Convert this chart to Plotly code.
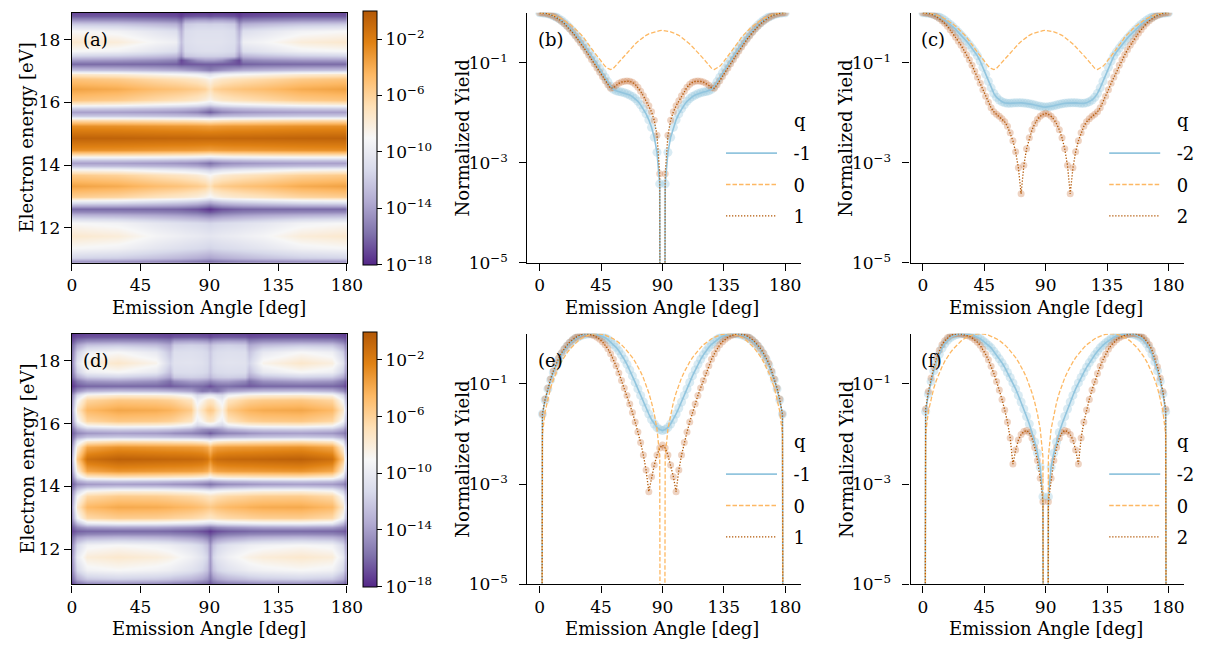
import plotly.graph_objects as go

# ------------------------------------------------------------------ data
ANGLE_TICKS = [0, 45, 90, 135, 180]
ENERGY_TICKS = [12, 14, 16, 18]
YIELD_TICKVALS = [1e-5, 1e-3, 1e-1]
YIELD_TICKTEXT = ["10<sup>−5</sup>", "10<sup>−3</sup>", "10<sup>−1</sup>"]
CBAR_TICKVALS = [-18, -14, -10, -6, -2]
CBAR_TICKTEXT = ["10<sup>−18</sup>", "10<sup>−14</sup>", "10<sup>−10</sup>",
                 "10<sup>−6</sup>", "10<sup>−2</sup>"]

# emission angles 0..90 deg (distributions are symmetric about 90 deg)
ANGLES_HALF = list(range(0, 91, 2))

# log10 of normalized yield, None = zero yield
Q0_TOP = [0.0, -0.002, -0.007, -0.016, -0.029, -0.046, -0.066, -0.09, -0.118, -0.15,
          -0.186, -0.226, -0.27, -0.318, -0.37, -0.426, -0.486, -0.57, -0.64, -0.715,
          -0.79, -0.865, -0.94, -1.01, -1.07, -1.11, -1.135, -1.11, -1.05, -0.98,
          -0.915, -0.85, -0.79, -0.735, -0.68, -0.625, -0.575, -0.53, -0.49, -0.45,
          -0.42, -0.40, -0.38, -0.365, -0.355, -0.35]
B_QM1 = [0.0, -0.002, -0.009, -0.02, -0.037, -0.058, -0.085, -0.117, -0.155, -0.198,
         -0.246, -0.30, -0.358, -0.42, -0.487, -0.557, -0.63, -0.706, -0.785, -0.866,
         -0.948, -1.03, -1.115, -1.2, -1.29, -1.38, -1.47, -1.53, -1.56, -1.575,
         -1.585, -1.60, -1.62, -1.645, -1.675, -1.715, -1.77, -1.84, -1.92, -2.02,
         -2.14, -2.29, -2.49, -2.79, -3.42, None]
B_QP1 = [0.0, -0.002, -0.01, -0.022, -0.04, -0.063, -0.092, -0.127, -0.168, -0.215,
         -0.268, -0.326, -0.39, -0.458, -0.53, -0.605, -0.684, -0.765, -0.85, -0.935,
         -1.02, -1.105, -1.19, -1.275, -1.36, -1.44, -1.51, -1.50, -1.45, -1.41,
         -1.385, -1.37, -1.365, -1.37, -1.39, -1.43, -1.49, -1.57, -1.66, -1.76,
         -1.86, -1.98, -2.15, -2.45, -3.22, None]
C_QM2 = [0.0, -0.002, -0.009, -0.02, -0.036, -0.057, -0.083, -0.113, -0.148, -0.188,
         -0.232, -0.28, -0.332, -0.388, -0.445, -0.505, -0.568, -0.635, -0.705, -0.78,
         -0.86, -0.965, -1.09, -1.23, -1.37, -1.50, -1.61, -1.69, -1.745, -1.78,
         -1.80, -1.81, -1.81, -1.805, -1.80, -1.80, -1.80, -1.805, -1.81, -1.82,
         -1.83, -1.845, -1.86, -1.87, -1.88, -1.885]
C_QP2 = [0.0, -0.003, -0.012, -0.027, -0.05, -0.08, -0.115, -0.16, -0.21, -0.27,
         -0.34, -0.41, -0.49, -0.57, -0.65, -0.74, -0.84, -0.94, -1.05, -1.17,
         -1.29, -1.41, -1.54, -1.67, -1.79, -1.90, -1.98, -2.03, -2.07, -2.12,
         -2.18, -2.27, -2.40, -2.56, -2.78, -3.10, -3.62, -3.05, -2.72, -2.50,
         -2.34, -2.22, -2.13, -2.07, -2.03, -2.01]
Q0_BOT = [None, -2.0, -1.55, -1.30, -1.08, -0.92, -0.78, -0.66, -0.55, -0.46,
          -0.38, -0.31, -0.25, -0.19, -0.145, -0.105, -0.07, -0.045, -0.025, -0.01,
          -0.002, 0.0, -0.003, -0.012, -0.025, -0.045, -0.07, -0.10, -0.135, -0.175,
          -0.22, -0.275, -0.335, -0.40, -0.475, -0.56, -0.65, -0.76, -0.88, -1.02,
          -1.18, -1.37, -1.60, -1.90, -2.45, None]
E_QM1 = [None, -1.6, -1.32, -1.1, -0.92, -0.77, -0.63, -0.51, -0.41, -0.32,
         -0.25, -0.19, -0.14, -0.10, -0.065, -0.04, -0.02, -0.008, -0.002, 0.0,
         -0.003, -0.012, -0.03, -0.05, -0.08, -0.115, -0.16, -0.21, -0.27, -0.34,
         -0.42, -0.51, -0.61, -0.72, -0.84, -0.97, -1.10, -1.23, -1.36, -1.48,
         -1.60, -1.71, -1.80, -1.87, -1.91, -1.93]
E_QP1 = [None, -1.6, -1.3, -1.08, -0.90, -0.74, -0.59, -0.48, -0.38, -0.30,
         -0.23, -0.17, -0.12, -0.08, -0.045, -0.02, -0.005, 0.0, -0.005, -0.02,
         -0.04, -0.07, -0.11, -0.16, -0.22, -0.30, -0.40, -0.51, -0.64, -0.78,
         -0.93, -1.08, -1.23, -1.40, -1.57, -1.76, -1.96, -2.17, -2.42, -2.72,
         -3.15, -2.85, -2.62, -2.42, -2.28, -2.22]
F_QM2 = [None, -1.55, -1.2, -0.95, -0.74, -0.56, -0.41, -0.29, -0.20, -0.13,
         -0.08, -0.045, -0.02, -0.007, -0.001, 0.0, -0.004, -0.012, -0.025, -0.045,
         -0.07, -0.10, -0.14, -0.18, -0.23, -0.28, -0.35, -0.42, -0.50, -0.58,
         -0.67, -0.77, -0.87, -0.98, -1.10, -1.23, -1.36, -1.50, -1.65, -1.80,
         -1.97, -2.16, -2.38, -2.66, -3.25, None]
F_QP2 = [None, -1.5, -1.15, -0.88, -0.66, -0.48, -0.33, -0.22, -0.14, -0.08,
         -0.04, -0.015, -0.003, 0.0, -0.005, -0.015, -0.03, -0.05, -0.08, -0.12,
         -0.17, -0.23, -0.31, -0.41, -0.52, -0.65, -0.79, -0.95, -1.12, -1.31,
         -1.52, -1.76, -2.08, -2.60, -2.32, -2.12, -2.01, -1.95, -1.93, -1.97,
         -2.08, -2.27, -2.53, -2.88, -3.35, None]

# heat maps: log10 yield on (energy x angle) grid, angles 0..90 deg
HEAT_E = [10.88, 11.05, 11.35, 11.75, 12.15, 12.40, 12.50, 12.60, 12.70, 12.85,
          13.00, 13.35, 13.70, 13.85, 13.98, 14.08, 14.18, 14.32, 14.50, 14.88,
          15.25, 15.45, 15.58, 15.70, 15.82, 15.95, 16.10, 16.43, 16.75, 16.92,
          17.05, 17.22, 17.35, 17.50, 17.65, 17.95, 18.30, 18.50, 18.65, 18.78, 18.86]
HEAT_A_ANGLES = [0, 30, 55, 68, 71, 74, 82, 87, 90]
HEAT_A = [
    [-15.5, -15.6, -15.8, -16.0, -16.0, -16.1, -16.3, -16.5, -16.7],
    [-11.5, -11.8, -12.4, -12.8, -12.9, -13.0, -13.3, -13.6, -13.8],
    [-9.0, -9.4, -10.3, -10.7, -10.8, -10.9, -11.1, -11.3, -11.5],
    [-7.6, -8.0, -9.2, -9.6, -9.7, -9.8, -10.0, -10.2, -10.3],
    [-9.0, -9.4, -10.3, -10.7, -10.8, -10.9, -11.1, -11.3, -11.5],
    [-13.0, -13.2, -13.6, -13.9, -14.0, -14.1, -14.4, -14.8, -15.0],
    [-14.8, -14.9, -15.1, -15.3, -15.4, -15.5, -15.8, -16.3, -16.6],
    [-16.0, -16.0, -16.1, -16.2, -16.3, -16.4, -16.7, -17.2, -17.6],
    [-13.5, -13.6, -13.9, -14.1, -14.2, -14.3, -14.7, -15.3, -15.8],
    [-9.5, -9.8, -10.5, -10.9, -11.0, -11.1, -11.5, -12.1, -12.6],
    [-5.8, -6.2, -7.0, -7.4, -7.5, -7.6, -8.0, -8.6, -9.2],
    [-3.6, -4.0, -4.8, -5.1, -5.2, -5.3, -5.6, -6.0, -6.9],
    [-5.6, -6.0, -6.8, -7.2, -7.3, -7.4, -7.8, -8.4, -9.0],
    [-8.5, -8.8, -9.6, -10.0, -10.1, -10.2, -10.6, -11.2, -11.6],
    [-12.5, -12.6, -12.9, -13.1, -13.2, -13.3, -13.6, -14.1, -14.5],
    [-14.0, -14.0, -14.2, -14.4, -14.5, -14.5, -14.8, -15.3, -15.8],
    [-12.0, -12.0, -12.2, -12.4, -12.5, -12.5, -12.7, -13.0, -13.3],
    [-6.8, -6.9, -7.1, -7.3, -7.3, -7.3, -7.5, -7.7, -7.9],
    [-2.8, -2.9, -3.1, -3.2, -3.2, -3.2, -3.3, -3.4, -3.5],
    [-0.6, -0.65, -0.75, -0.8, -0.8, -0.8, -0.85, -0.85, -0.85],
    [-2.8, -2.9, -3.1, -3.2, -3.2, -3.2, -3.3, -3.4, -3.5],
    [-6.8, -6.9, -7.1, -7.3, -7.3, -7.3, -7.5, -7.7, -7.9],
    [-12.0, -12.0, -12.2, -12.4, -12.5, -12.5, -12.7, -13.0, -13.3],
    [-14.0, -14.0, -14.2, -14.4, -14.5, -14.6, -15.0, -15.8, -16.4],
    [-11.5, -11.7, -12.1, -12.4, -12.5, -12.6, -13.0, -13.6, -14.2],
    [-7.5, -7.9, -8.7, -9.1, -9.2, -9.3, -9.7, -10.3, -10.8],
    [-5.2, -5.6, -6.4, -6.8, -6.9, -7.0, -7.4, -8.0, -8.6],
    [-3.6, -4.0, -4.8, -5.1, -5.2, -5.3, -5.6, -6.0, -6.9],
    [-5.2, -5.6, -6.4, -6.8, -6.9, -7.0, -7.4, -8.0, -8.6],
    [-7.5, -7.9, -8.7, -9.1, -9.2, -9.3, -9.7, -10.3, -10.8],
    [-12.5, -12.7, -13.1, -13.4, -13.6, -13.8, -14.4, -15.0, -15.4],
    [-16.0, -16.0, -16.1, -16.3, -16.8, -16.6, -16.5, -16.4, -16.4],
    [-14.0, -14.2, -14.6, -15.0, -17.0, -16.3, -14.5, -14.0, -14.0],
    [-11.5, -11.8, -12.4, -12.9, -14.5, -12.2, -11.8, -11.7, -11.7],
    [-9.0, -9.4, -10.4, -10.9, -13.2, -11.2, -10.9, -10.8, -10.8],
    [-7.6, -8.0, -9.2, -9.6, -12.5, -10.9, -10.6, -10.6, -10.6],
    [-9.0, -9.4, -10.4, -10.9, -13.2, -11.1, -10.8, -10.8, -10.8],
    [-12.0, -12.2, -12.8, -13.2, -14.5, -12.0, -11.6, -11.6, -11.7],
    [-14.5, -14.6, -15.0, -15.3, -16.0, -14.2, -13.8, -13.8, -14.0],
    [-16.5, -16.5, -16.7, -16.9, -17.3, -16.8, -16.6, -16.6, -16.8],
    [-17.0, -17.0, -17.2, -17.3, -17.6, -17.4, -17.3, -17.3, -17.4],
]
HEAT_D_ANGLES = [0, 3, 10, 30, 55, 64, 67, 78, 82, 85, 88, 90]
HEAT_D = [
    [-17.5, -16.5, -15.8, -15.5, -15.6, -15.8, -15.9, -16.0, -16.2, -16.4, -16.6, -17.0],
    [-16.0, -13.5, -12.0, -11.6, -11.9, -12.2, -12.4, -12.9, -13.3, -13.7, -14.4, -15.6],
    [-15.0, -11.3, -9.4, -9.0, -9.4, -9.7, -9.9, -10.6, -11.0, -11.5, -12.4, -14.5],
    [-14.5, -10.0, -8.0, -7.6, -8.0, -8.4, -8.6, -9.5, -10.0, -10.5, -11.5, -14.2],
    [-15.0, -11.3, -9.4, -9.0, -9.4, -9.7, -9.9, -10.6, -11.0, -11.5, -12.4, -14.5],
    [-16.0, -14.0, -13.3, -13.0, -13.2, -13.4, -13.6, -14.0, -14.3, -14.6, -15.2, -16.0],
    [-16.5, -15.5, -15.0, -14.8, -14.9, -15.0, -15.1, -15.4, -15.6, -15.9, -16.3, -16.8],
    [-17.0, -16.3, -16.1, -16.0, -16.0, -16.1, -16.2, -16.4, -16.6, -16.8, -17.1, -17.5],
    [-16.5, -14.8, -13.8, -13.5, -13.6, -13.8, -13.9, -14.2, -14.4, -14.6, -15.0, -15.3],
    [-15.5, -12.5, -9.8, -9.3, -9.4, -9.6, -9.7, -10.0, -10.2, -10.4, -10.7, -10.9],
    [-14.5, -9.3, -6.4, -5.7, -5.8, -6.0, -6.1, -6.4, -6.6, -6.8, -7.1, -7.3],
    [-14.0, -7.5, -4.6, -3.9, -4.0, -4.2, -4.3, -4.6, -4.8, -5.0, -5.3, -5.5],
    [-14.5, -9.3, -6.4, -5.7, -5.8, -6.0, -6.1, -6.4, -6.6, -6.8, -7.1, -7.3],
    [-15.0, -11.5, -8.8, -8.1, -8.2, -8.4, -8.5, -8.8, -9.0, -9.2, -9.5, -9.7],
    [-16.0, -13.5, -12.4, -12.0, -12.1, -12.3, -12.4, -12.7, -12.9, -13.1, -13.5, -13.8],
    [-16.5, -14.8, -14.2, -14.0, -14.2, -14.4, -14.5, -14.7, -14.9, -15.1, -15.4, -15.7],
    [-16.0, -13.5, -12.3, -12.0, -12.2, -12.4, -12.5, -12.7, -12.9, -13.1, -13.4, -13.7],
    [-15.5, -10.5, -7.7, -7.0, -7.2, -7.3, -7.4, -7.5, -7.7, -7.9, -8.3, -9.0],
    [-14.5, -8.0, -3.8, -3.0, -3.2, -3.3, -3.3, -3.4, -3.5, -3.6, -4.0, -5.0],
    [-13.5, -5.5, -1.3, -0.5, -0.7, -0.8, -0.8, -0.9, -1.0, -1.1, -1.5, -2.6],
    [-14.5, -8.0, -3.8, -3.0, -3.2, -3.3, -3.3, -3.4, -3.5, -3.6, -4.0, -5.0],
    [-15.5, -10.5, -7.7, -7.0, -7.2, -7.3, -7.4, -7.5, -7.7, -7.9, -8.3, -9.0],
    [-16.0, -13.5, -12.3, -12.0, -12.2, -12.4, -12.5, -12.7, -12.9, -13.1, -13.4, -13.7],
    [-16.5, -15.0, -14.3, -14.0, -14.2, -14.5, -14.7, -15.0, -15.3, -15.6, -16.0, -16.5],
    [-16.0, -13.5, -12.0, -11.6, -11.8, -12.1, -12.3, -13.0, -13.8, -14.3, -14.5, -14.5],
    [-15.0, -11.3, -8.5, -7.7, -7.9, -8.2, -8.4, -9.5, -11.2, -10.8, -10.2, -10.0],
    [-14.5, -9.3, -6.2, -5.4, -5.6, -5.9, -6.1, -7.2, -9.7, -8.8, -7.6, -7.3],
    [-14.0, -7.5, -4.6, -3.8, -4.0, -4.3, -4.5, -5.6, -8.3, -7.0, -5.8, -5.5],
    [-14.5, -9.3, -6.2, -5.4, -5.6, -5.9, -6.1, -7.2, -9.7, -8.8, -7.6, -7.3],
    [-15.0, -11.3, -8.5, -7.7, -7.9, -8.2, -8.4, -9.5, -11.2, -10.8, -10.2, -10.0],
    [-16.5, -14.5, -13.0, -12.5, -12.7, -13.0, -13.2, -13.8, -14.8, -15.6, -15.4, -15.0],
    [-17.5, -16.5, -16.1, -16.0, -16.1, -16.5, -16.3, -15.8, -15.9, -16.0, -16.4, -16.8],
    [-17.0, -15.5, -14.3, -14.0, -14.5, -15.8, -14.8, -14.0, -14.0, -14.2, -14.5, -14.9],
    [-16.0, -13.5, -11.9, -11.5, -12.3, -13.8, -12.0, -11.7, -11.8, -11.9, -12.2, -12.9],
    [-15.5, -11.8, -9.6, -9.0, -10.1, -12.5, -11.0, -10.9, -11.0, -11.1, -11.4, -12.2],
    [-15.0, -10.5, -8.2, -7.5, -8.6, -11.5, -10.6, -10.5, -10.6, -10.7, -11.1, -12.0],
    [-15.5, -11.8, -9.6, -9.0, -10.1, -12.3, -10.9, -10.8, -10.9, -11.0, -11.3, -12.1],
    [-16.0, -13.8, -12.3, -12.0, -12.6, -13.6, -11.9, -11.6, -11.7, -11.8, -12.1, -12.8],
    [-16.8, -15.5, -14.7, -14.5, -14.7, -15.2, -14.0, -13.8, -13.9, -14.0, -14.2, -14.8],
    [-17.3, -16.8, -16.6, -16.5, -16.6, -16.8, -16.5, -16.4, -16.4, -16.5, -16.6, -16.9],
    [-17.7, -17.3, -17.1, -17.0, -17.1, -17.2, -17.1, -17.0, -17.0, -17.1, -17.1, -17.3],
]

# ------------------------------------------------------------------ helpers
FONT = "DejaVu Serif"
W, H = 1205, 651
CMAP = [[0.0, "#542788"], [0.125, "#8073ac"], [0.25, "#b2abd2"], [0.375, "#d8daeb"],
        [0.5, "#f7f7f7"], [0.625, "#fee0b6"], [0.75, "#fdb863"], [0.875, "#e08214"],
        [1.0, "#b35806"]]
BLUE, ORANGE, BROWN = "#92c5de", "#fdb863", "#b35806"
NBSP = "\u00a0"


def mirror_angles(half):
    return list(half) + [180 - a for a in reversed(half[:-1])]


def mirror_vals(half):
    return list(half) + list(half[-2::-1])


def to_yield(logs):
    # zero yield is clipped far below the axis (like matplotlib's log clipping)
    return [1e-30 if v is None else 10 ** v for v in logs]


def px_x(p):
    return p / W


def px_y(p):
    return 1 - p / H


fig = go.Figure()

XD = {"a": [68, 348], "b": [531.7, 810], "c": [921.7, 1200]}
YT = [13, 267]
YB = [339, 593.5]

axes = {
    "a": ("x", "y", XD["a"], YT),
    "b": ("x2", "y2", XD["b"], YT),
    "c": ("x3", "y3", XD["c"], YT),
    "d": ("x4", "y4", XD["a"], YB),
    "e": ("x5", "y5", XD["b"], YB),
    "f": ("x6", "y6", XD["c"], YB),
}

tickfont = dict(family=FONT, size=17, color="black")
titlefont = dict(family=FONT, size=18, color="black")

layout = dict(width=W, height=H, margin=dict(l=0, r=0, t=0, b=0),
              paper_bgcolor="white", plot_bgcolor="white",
              font=dict(family=FONT, size=17, color="black"))

annos = []
for key, (xa, ya, xp, yp) in axes.items():
    xname = "xaxis" + xa[1:]
    yname = "yaxis" + ya[1:]
    heat = key in ("a", "d")
    xdict = dict(domain=[px_x(xp[0]), px_x(xp[1])], anchor=ya,
                 tickvals=ANGLE_TICKS, ticks="outside", ticklen=7, tickwidth=1.2,
                 tickcolor="black", showline=True, linecolor="black", linewidth=1.3,
                 showgrid=False, zeroline=False, tickfont=tickfont)
    ydict = dict(domain=[px_y(yp[1]), px_y(yp[0])], anchor=xa,
                 ticks="outside", ticklen=7, tickwidth=1.2, tickcolor="black",
                 showline=True, linecolor="black", linewidth=1.3,
                 showgrid=False, zeroline=False, tickfont=tickfont)
    if heat:
        xdict.update(range=[0, 180], mirror=True)
        ydict.update(range=[10.88, 18.86], mirror=True, tickvals=ENERGY_TICKS)
        ytitle, ytx = "Electron energy [eV]", 22
        cx = (xp[0] + xp[1]) / 2
    else:
        xdict.update(range=[-9, 191.5])
        ydict.update(type="log", range=[-5, 0], tickvals=YIELD_TICKVALS,
                     ticktext=YIELD_TICKTEXT, ticklabelstandoff=8)
        ytitle, ytx = "Normalized Yield", xp[0] - 66
        cx = xp[0] + 137.3
    layout[xname] = xdict
    layout[yname] = ydict
    annos.append(dict(text="Emission Angle [deg]", x=px_x(cx), y=px_y(yp[1] + 45),
                      xref="paper", yref="paper", xanchor="center", yanchor="middle",
                      showarrow=False, font=titlefont))
    annos.append(dict(text=ytitle, x=px_x(ytx), y=px_y((yp[0] + yp[1]) / 2),
                      xref="paper", yref="paper", xanchor="center", yanchor="middle",
                      textangle=-90, showarrow=False, font=titlefont))

# ------------------------------------------------------------------ heat maps
for key, angles, grid in (("a", HEAT_A_ANGLES, HEAT_A), ("d", HEAT_D_ANGLES, HEAT_D)):
    xa, ya, xp, yp = axes[key]
    cy = 1 - (yp[0] + yp[1]) / 2 / H
    fig.add_trace(go.Heatmap(
        x=mirror_angles(angles), y=HEAT_E, z=[mirror_vals(r) for r in grid],
        xaxis=xa, yaxis=ya, zmin=-18, zmax=0, zsmooth="best", colorscale=CMAP,
        hoverinfo="skip",
        colorbar=dict(x=px_x(364), xanchor="left", y=cy, yanchor="middle",
                      thickness=14, thicknessmode="pixels", len=yp[1] - yp[0],
                      lenmode="pixels", outlinecolor="black", outlinewidth=1,
                      tickvals=CBAR_TICKVALS, ticktext=CBAR_TICKTEXT,
                      ticks="outside", ticklen=5, tickwidth=1.2, tickcolor="black",
                      tickfont=tickfont, xpad=0, ypad=0)))

# ------------------------------------------------------------------ line panels
panels = [
    ("b", "legend", ["-1", "0", "1"], B_QM1, Q0_TOP, B_QP1),
    ("c", "legend2", ["-2", "0", "2"], C_QM2, Q0_TOP, C_QP2),
    ("e", "legend3", ["-1", "0", "1"], E_QM1, Q0_BOT, E_QP1),
    ("f", "legend4", ["-2", "0", "2"], F_QM2, Q0_BOT, F_QP2),
]
x_full = mirror_angles(ANGLES_HALF)
for key, leg, names, neg, zero, pos in panels:
    xa, ya, xp, yp = axes[key]
    yneg = to_yield(mirror_vals(neg))
    yzero = to_yield(mirror_vals(zero))
    ypos = to_yield(mirror_vals(pos))
    common = dict(x=x_full, xaxis=xa, yaxis=ya, hoverinfo="skip")
    fig.add_trace(go.Scatter(y=yneg, mode="markers", showlegend=False,
                             marker=dict(size=9, color="rgba(146,197,222,0.35)", line_width=0),
                             **common))
    fig.add_trace(go.Scatter(y=ypos, mode="markers", showlegend=False,
                             marker=dict(size=7, color="rgba(205,130,80,0.35)", line_width=0),
                             **common))
    fig.add_trace(go.Scatter(y=yneg, mode="lines", name=NBSP * 2 + names[0], legend=leg,
                             legendgroup=key + "n",
                             line=dict(color=BLUE, width=1.6), **common))
    fig.add_trace(go.Scatter(y=yzero, mode="lines", name=NBSP * 2 + names[1], legend=leg,
                             legendgroup=key + "z",
                             line=dict(color=ORANGE, width=1.3, dash="4.5px,2px"), **common))
    fig.add_trace(go.Scatter(y=ypos, mode="lines", name=NBSP * 2 + names[2], legend=leg,
                             legendgroup=key + "p",
                             line=dict(color=BROWN, width=1.3, dash="1.3px,1.7px"), **common))
    layout[leg] = dict(x=px_x(xp[0] + 197), xanchor="left",
                       y=px_y(yp[0] + 124), yanchor="top",
                       bgcolor="rgba(0,0,0,0)", borderwidth=0,
                       font=dict(family=FONT, size=18, color="black"),
                       itemwidth=51, tracegroupgap=5, traceorder="grouped")

# ------------------------------------------------------------------ annotations
for key, (xa, ya, xp, yp) in axes.items():
    annos.append(dict(text="(" + key + ")", x=px_x(xp[0] + 9), y=px_y(yp[0] + 27),
                      xref="paper", yref="paper", xanchor="left", yanchor="middle",
                      showarrow=False, font=dict(family=FONT, size=18, color="black")))
    if key not in ("a", "d"):
        annos.append(dict(text="q", x=px_x(xp[0] + 277), y=px_y(yp[0] + 109),
                          xref="paper", yref="paper", xanchor="center", yanchor="middle",
                          showarrow=False, font=dict(family=FONT, size=18, color="black")))
layout["annotations"] = annos

fig.update_layout(**layout)
fig.write_html("out.html")
